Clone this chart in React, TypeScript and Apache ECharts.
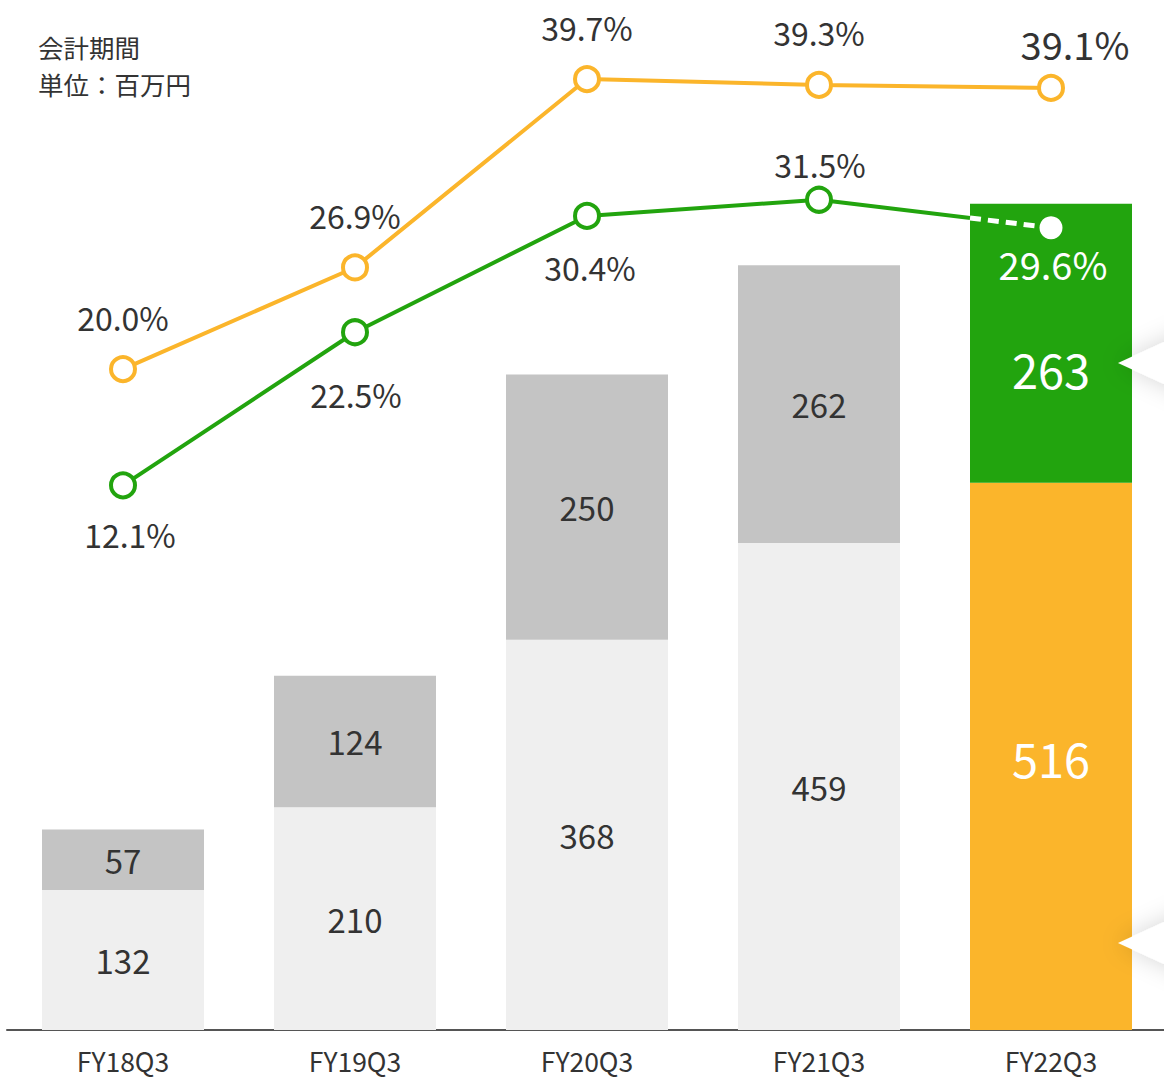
import React, { useEffect, useRef } from "react";
import * as echarts from "echarts";

const categories = ["FY18Q3", "FY19Q3", "FY20Q3", "FY21Q3", "FY22Q3"];
const baseValues = [132, 210, 368, 459, 516];
const topValues = [57, 124, 250, 262, 263];
const orangeRates = [20.0, 26.9, 39.7, 39.3, 39.1];
const greenRates = [12.1, 22.5, 30.4, 31.5, 29.6];
const noteLines = ["会計期間", "単位：百万円"];

const FONT = '"Noto Sans CJK JP", "Noto Sans", sans-serif';
const TEXT = "#333333";
const ORANGE = "#fbb52b";
const GREEN = "#22a40e";
const GRAY_DARK = "#c4c4c4";
const GRAY_LIGHT = "#efefef";
const BAR_W = 162;

const orangeOffsets = [[0, -52], [0, -52], [0, -52], [0, -53], [24, -44]];
const greenOffsets = [[7, 49], [1, 62], [3, 51], [1, -36]];

export default function App() {
  const ref = useRef<HTMLDivElement>(null);
  useEffect(() => {
    const chart = echarts.init(ref.current!, null, { renderer: "svg" });
    const last = categories.length - 1;
    const pctLabel = {
      show: true,
      position: "inside",
      color: TEXT,
      fontFamily: FONT,
      fontSize: 32,
      formatter: (p: any) => p.value.toFixed(1) + "%",
    };
    const option: any = {
      animation: false,
      backgroundColor: "#ffffff",
      textStyle: { fontFamily: FONT },
      grid: { left: 7, width: 1160, top: 0, bottom: 50, containLabel: false },
      xAxis: {
        type: "category",
        data: categories,
        axisTick: { show: false },
        axisLine: { lineStyle: { color: "#555555", width: 2 } },
        axisLabel: { color: TEXT, fontSize: 26.5, fontFamily: FONT, margin: 17 },
      },
      yAxis: [
        { type: "value", min: 0, max: 971, show: false, splitLine: { show: false } },
        { type: "value", min: -24.9, max: 45.07, show: false, splitLine: { show: false } },
      ],
      graphic: [
        {
          type: "text",
          x: 38,
          y: 46,
          style: {
            text: noteLines[0],
            font: `25.5px ${FONT}`,
            fill: TEXT,
            verticalAlign: "middle",
          },
        },
        {
          type: "text",
          x: 38,
          y: 83,
          style: {
            text: noteLines[1],
            font: `25.5px ${FONT}`,
            fill: TEXT,
            verticalAlign: "middle",
          },
        },
        {
          type: "polygon",
          shape: { points: [[1118, 363], [1260, 298], [1260, 428]] },
          style: { fill: "#ffffff", shadowBlur: 24, shadowColor: "rgba(0,0,0,0.16)" },
          z: 50,
        },
        {
          type: "polygon",
          shape: { points: [[1118, 943], [1260, 878], [1260, 1008]] },
          style: { fill: "#ffffff", shadowBlur: 24, shadowColor: "rgba(0,0,0,0.16)" },
          z: 50,
        },
      ],
      series: [
        {
          type: "bar",
          stack: "total",
          barWidth: BAR_W,
          z: 3,
          data: baseValues.map((v, i) =>
            i === last
              ? {
                  value: v,
                  itemStyle: { color: ORANGE },
                  label: { color: "#ffffff", fontSize: 47, offset: [0, 1] },
                }
              : v
          ),
          itemStyle: { color: GRAY_LIGHT },
          label: { show: true, position: "inside", color: TEXT, fontSize: 33, fontFamily: FONT },
        },
        {
          type: "bar",
          stack: "total",
          barWidth: BAR_W,
          z: 3,
          data: topValues.map((v, i) =>
            i === last
              ? {
                  value: v,
                  itemStyle: { color: GREEN },
                  label: { color: "#ffffff", fontSize: 47, offset: [0, 25] },
                }
              : v
          ),
          itemStyle: { color: GRAY_DARK },
          label: { show: true, position: "inside", color: TEXT, fontSize: 33, fontFamily: FONT },
        },
        {
          type: "line",
          yAxisIndex: 1,
          z: 4,
          data: orangeRates.map((v, i) => ({
            value: v,
            label: {
              offset: orangeOffsets[i],
              fontSize: i === last ? 38 : 32,
            },
          })),
          lineStyle: { color: ORANGE, width: 4 },
          itemStyle: { color: "#ffffff", borderColor: ORANGE, borderWidth: 4 },
          symbol: "circle",
          symbolSize: 24,
          showAllSymbol: true,
          label: pctLabel,
        },
        {
          type: "line",
          yAxisIndex: 1,
          z: 1,
          data: greenRates.map((v, i) =>
            i === last
              ? { value: v, symbolSize: 0, label: { show: false } }
              : { value: v, label: { offset: greenOffsets[i] } }
          ),
          lineStyle: { color: GREEN, width: 4 },
          itemStyle: { color: "#ffffff", borderColor: GREEN, borderWidth: 4 },
          symbol: "circle",
          symbolSize: 24,
          showAllSymbol: true,
          label: pctLabel,
        },
        {
          type: "custom",
          yAxisIndex: 1,
          z: 5,
          data: [[last, greenRates[last], greenRates[last - 1]]],
          renderItem: (params: any, api: any) => {
            const p2 = api.coord([api.value(0), api.value(1)]);
            const p1 = api.coord([api.value(0) - 1, api.value(2)]);
            const x = p2[0] - BAR_W / 2;
            const t = (x - p1[0]) / (p2[0] - p1[0]);
            const y = p1[1] + t * (p2[1] - p1[1]);
            return {
              type: "group",
              children: [
                {
                  type: "line",
                  shape: { x1: x, y1: y, x2: p2[0], y2: p2[1] },
                  style: { stroke: "#ffffff", lineWidth: 5, lineDash: [11, 7] },
                },
                {
                  type: "circle",
                  shape: { cx: p2[0], cy: p2[1], r: 11.5 },
                  style: { fill: "#ffffff" },
                },
                {
                  type: "text",
                  x: p2[0] + 2,
                  y: p2[1] + 36,
                  style: {
                    text: api.value(1).toFixed(1) + "%",
                    fill: "#ffffff",
                    font: `38px ${FONT}`,
                    align: "center",
                    verticalAlign: "middle",
                  },
                },
              ],
            };
          },
        },
      ],
    };
    chart.setOption(option);
    return () => chart.dispose();
  }, []);
  return (
    <div
      style={{
        position: "absolute",
        left: 0,
        top: 0,
        width: 1164,
        height: 1080,
        overflow: "hidden",
      }}
    >
      <div ref={ref} style={{ width: 1172, height: 1080 }} />
    </div>
  );
}
